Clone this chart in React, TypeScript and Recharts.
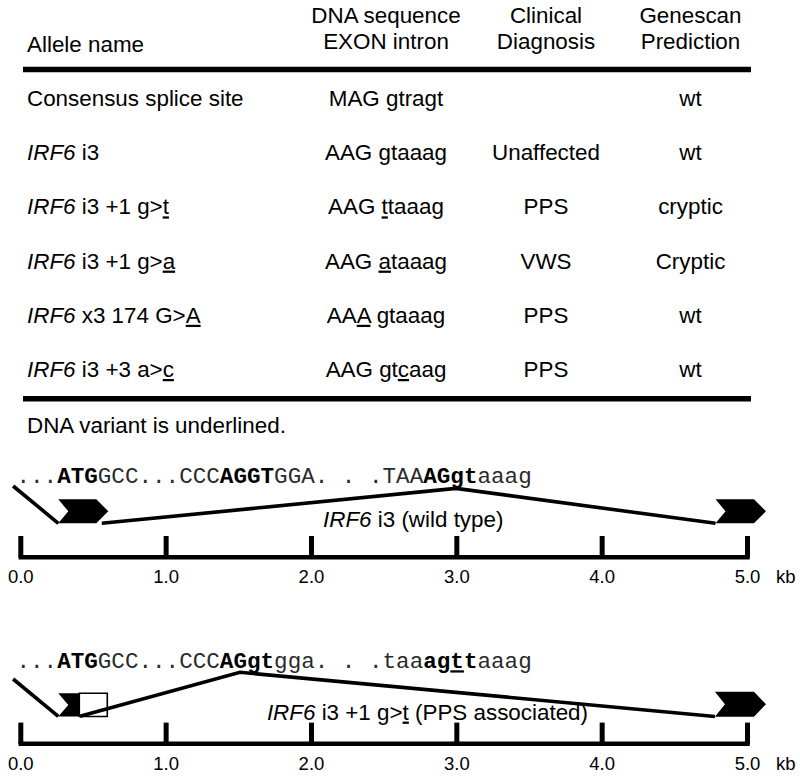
import React from 'react';
import { ComposedChart, Scatter, Line, XAxis, YAxis, ReferenceLine, ReferenceArea } from 'recharts';

// ---------------- Table data ----------------
const headerLines: string[][] = [
  ['Allele name'],
  ['DNA sequence', 'EXON intron'],
  ['Clinical', 'Diagnosis'],
  ['Genescan', 'Prediction'],
];
const alleleNames = [
  'Consensus splice site',
  '*IRF6* i3',
  '*IRF6* i3 +1 g>_t_',
  '*IRF6* i3 +1 g>_a_',
  '*IRF6* x3 174 G>_A_',
  '*IRF6* i3 +3 a>_c_',
];
const dnaSequences = ['MAG gtragt', 'AAG gtaaag', 'AAG _t_taaag', 'AAG _a_taaag', 'AA_A_ gtaaag', 'AAG gt_c_aag'];
const clinicalDiagnoses = ['', 'Unaffected', 'PPS', 'VWS', 'PPS', 'PPS'];
const genescanPredictions = ['wt', 'wt', 'cryptic', 'Cryptic', 'wt', 'wt'];
const footnote = 'DNA variant is underlined.';

// ---------------- Gene diagram data (x in kb, y in diagram units above the scale bar) ----------------
const kbTicks = [0, 1, 2, 3, 4, 5];
const kbUnit = 'kb';

const wtSequence = '...**ATG**GCC...CCC**AGGT**GGA. . .TAA**AGgt**aaag';
const wtLabel = '*IRF6* i3 (wild type)';
const wtLead = [{ kb: -0.053, y: 7.12 }, { kb: 0.258, y: 3.39 }];
const wtIntron = [{ kb: 0.557, y: 3.39 }, { kb: 2.994, y: 6.88 }, { kb: 4.78, y: 3.39 }];
const wtExons = [
  { start: 0.258, end: 0.602, bottom: 3.39, top: 5.79, kind: 'arrow' },
  { start: 4.78, end: 5.127, bottom: 3.39, top: 5.79, kind: 'arrow' },
];
const wtRetained: { start: number; end: number; bottom: number; top: number }[] = [];
const wtTexts = [
  { kb: -0.03, y: 7.39, markup: wtSequence, kind: 'seq' },
  { kb: 2.7, y: 3.02, markup: wtLabel, kind: 'label' },
];

const mutSequence = '...**ATG**GCC...CCC**AGgt**gga. . .taa**ag_t_t**aaag';
const mutLabel = '*IRF6* i3 +1 g>_t_ (PPS associated)';
const mutLead = [{ kb: -0.053, y: 6.48 }, { kb: 0.258, y: 2.75 }];
const mutIntron = [{ kb: 0.407, y: 2.75 }, { kb: 1.508, y: 7.15 }, { kb: 4.776, y: 2.73 }];
const mutExons = [
  { start: 0.258, end: 0.4025, bottom: 2.73, top: 5.05, kind: 'notched' },
  { start: 4.776, end: 5.127, bottom: 2.71, top: 5.21, kind: 'arrow' },
];
const mutRetained = [{ start: 0.4025, end: 0.595, bottom: 2.73, top: 5.05 }];
const mutTexts = [
  { kb: -0.03, y: 7.55, markup: mutSequence, kind: 'seq' },
  { kb: 2.798, y: 2.42, markup: mutLabel, kind: 'label' },
];

// ---------------- Layout / style constants ----------------
const FONT_SANS = '"Liberation Sans", Arial, Helvetica, sans-serif';
const FONT_MONO = '"Liberation Mono", "Courier New", Courier, monospace';
const SANS_SIZE = 22.4;
const MONO_SIZE = 22.6;
const TICK_FONT = 18.5;

const COL_X = [27, 386, 546, 690.5];
const COL_ANCHOR = ['start', 'middle', 'middle', 'middle'];
const ROW_PX = 54.2;
const ROW_MIN = -106 / ROW_PX;
const ROW_MAX = ROW_MIN + 440 / ROW_PX;
const HEADER_ROW = -1.046;
const HEADER_LINE_GAP = 26.6;
const SINGLE_HEADER_DY = 3;
const RULE_TOP = -0.673;
const RULE_BOTTOM = 5.402;
const FOOTNOTE_ROW = 6.026;

const NOTCH_PX = 10;
const POINT_PX = 12;
const TICK_H = 2.12;
const TICK_LABEL_Y = -2.61;
const KB_DX = 28.5;
const Y_MIN = -4;
const Y_MAX = 10;

// ---------------- Rich text ----------------
type Seg = { text: string; b: boolean; i: boolean; u: boolean };
function parseMarkup(s: string): Seg[] {
  const segs: Seg[] = [];
  let b = false, i = false, u = false, buf = '';
  const flush = () => {
    if (buf) {
      segs.push({ text: buf, b, i, u });
      buf = '';
    }
  };
  for (let k = 0; k < s.length; k++) {
    if (s.startsWith('**', k)) {
      flush();
      b = !b;
      k++;
      continue;
    }
    const c = s[k];
    if (c === '*') { flush(); i = !i; continue; }
    if (c === '_') { flush(); u = !u; continue; }
    buf += c;
  }
  flush();
  return segs;
}

function RichText(props: any) {
  const { x, y, markup, mono, anchor } = props;
  const segs = parseMarkup(markup);
  return (
    <text
      x={x}
      y={y}
      textAnchor={anchor}
      fontFamily={mono ? FONT_MONO : FONT_SANS}
      fontSize={mono ? MONO_SIZE : SANS_SIZE}
      fill="#000"
      style={{ whiteSpace: 'pre' }}
    >
      {segs.map((s, k) => (
        <tspan
          key={k}
          fontWeight={s.b ? 'bold' : 'normal'}
          fontStyle={s.i ? 'italic' : 'normal'}
          fill={mono && !s.b ? '#2a2a2a' : '#000'}
          style={s.u ? { textDecoration: 'underline' } : undefined}
        >
          {s.text}
        </tspan>
      ))}
    </text>
  );
}

// ---------------- Table ----------------
const tableCells: any[] = [
  ...headerLines.map((lines, c) => ({ col: c, row: HEADER_ROW, lines })),
  ...alleleNames.map((t, r) => ({ col: 0, row: r, text: t })),
  ...dnaSequences.map((t, r) => ({ col: 1, row: r, text: t })),
  ...clinicalDiagnoses.map((t, r) => ({ col: 2, row: r, text: t })),
  ...genescanPredictions.map((t, r) => ({ col: 3, row: r, text: t })),
  { col: 0, row: FOOTNOTE_ROW, text: footnote },
];

const CellShape = (props: any) => {
  const { cy, payload } = props;
  const x = COL_X[payload.col];
  const anchor = COL_ANCHOR[payload.col];
  if (payload.lines) {
    const n = payload.lines.length;
    return (
      <g>
        {payload.lines.map((ln: string, k: number) => (
          <RichText
            key={k}
            x={x}
            y={cy - (n - 1 - k) * HEADER_LINE_GAP + (n === 1 ? SINGLE_HEADER_DY : 0)}
            markup={ln}
            anchor={anchor}
          />
        ))}
      </g>
    );
  }
  if (!payload.text) return <g />;
  return <RichText x={x} y={cy} markup={payload.text} anchor={anchor} />;
};

function TableChart() {
  return (
    <ComposedChart width={800} height={440} margin={{ top: 0, right: 49, bottom: 0, left: 23 }}>
      <XAxis type="number" dataKey="col" domain={[0, 3]} hide />
      <YAxis type="number" dataKey="row" domain={[ROW_MIN, ROW_MAX]} reversed hide />
      <ReferenceLine y={RULE_TOP} stroke="#000" strokeWidth={5.6} ifOverflow="visible" />
      <ReferenceLine y={RULE_BOTTOM} stroke="#000" strokeWidth={5.6} ifOverflow="visible" />
      <Scatter data={tableCells} shape={CellShape} isAnimationActive={false} />
    </ComposedChart>
  );
}

// ---------------- Gene diagrams ----------------
const ExonShape = (props: any) => {
  const { x, y, width, height, kind } = props;
  const p = kind === 'arrow' ? POINT_PX : 0;
  const mid = y + height / 2;
  const pts = [
    [x, y],
    [x + width - p, y],
    [x + width, mid],
    [x + width - p, y + height],
    [x, y + height],
    [x + NOTCH_PX, mid],
  ];
  return <polygon points={pts.map((q) => q.join(',')).join(' ')} fill="#000" />;
};

const tickLabelPoints = kbTicks.map((k, idx) => ({
  kb: k,
  y: TICK_LABEL_Y,
  text: k.toFixed(1),
  unit: idx === kbTicks.length - 1 ? kbUnit : '',
}));

const TickLabel = (props: any) => {
  const { cx, cy, payload } = props;
  return (
    <g>
      <text x={cx} y={cy} textAnchor="middle" fontFamily={FONT_SANS} fontSize={TICK_FONT} fill="#000">
        {payload.text}
      </text>
      {payload.unit ? (
        <text x={cx + KB_DX} y={cy} textAnchor="start" fontFamily={FONT_SANS} fontSize={TICK_FONT} fill="#000">
          {payload.unit}
        </text>
      ) : null}
    </g>
  );
};

const DiagramText = (props: any) => {
  const { cx, cy, payload } = props;
  const mono = payload.kind === 'seq';
  return <RichText x={cx} y={cy} markup={payload.markup} mono={mono} anchor={mono ? 'start' : 'middle'} />;
};

function GeneDiagram(props: any) {
  const { height, marginTop, marginBottom, lead, intron, exons, retained, texts } = props;
  return (
    <ComposedChart width={800} height={height} margin={{ top: marginTop, right: 8.9, bottom: marginBottom, left: 6.27 }}>
      <XAxis type="number" dataKey="kb" domain={[-0.1, 5.3]} ticks={kbTicks} hide />
      <YAxis type="number" dataKey="y" domain={[Y_MIN, Y_MAX]} hide />
      <ReferenceLine
        segment={[{ x: kbTicks[0], y: 0 }, { x: kbTicks[kbTicks.length - 1], y: 0 }]}
        stroke="#000"
        strokeWidth={4.5}
        strokeLinecap="square"
        ifOverflow="visible"
      />
      {kbTicks.map((k) => (
        <ReferenceLine key={k} segment={[{ x: k, y: 0 }, { x: k, y: TICK_H }]} stroke="#000" strokeWidth={5} ifOverflow="visible" />
      ))}
      {exons.map((e: any, k: number) => (
        <ReferenceArea
          key={'e' + k}
          x1={e.start}
          x2={e.end}
          y1={e.bottom}
          y2={e.top}
          ifOverflow="visible"
          shape={(p: any) => <ExonShape {...p} kind={e.kind} />}
        />
      ))}
      {retained.map((r: any, k: number) => (
        <ReferenceArea
          key={'r' + k}
          x1={r.start}
          x2={r.end}
          y1={r.bottom}
          y2={r.top}
          ifOverflow="visible"
          fill="#fff"
          fillOpacity={1}
          stroke="#000"
          strokeWidth={1.6}
        />
      ))}
      <Line data={lead} dataKey="y" type="linear" stroke="#000" strokeWidth={3.6} dot={false} activeDot={false} isAnimationActive={false} />
      <Line data={intron} dataKey="y" type="linear" stroke="#000" strokeWidth={3.6} dot={false} activeDot={false} isAnimationActive={false} />
      <Scatter data={texts} shape={DiagramText} isAnimationActive={false} />
      <Scatter data={tickLabelPoints} shape={TickLabel} isAnimationActive={false} />
    </ComposedChart>
  );
}

export default function App() {
  return (
    <div style={{ position: 'absolute', left: 0, top: 0, width: 800, height: 778, background: '#fff', overflow: 'hidden' }}>
      <div style={{ position: 'absolute', left: 0, top: 0 }}>
        <TableChart />
      </div>
      <div style={{ position: 'absolute', left: 0, top: 440 }}>
        <GeneDiagram
          height={186}
          marginTop={17.2}
          marginBottom={28.8}
          lead={wtLead}
          intron={wtIntron}
          exons={wtExons}
          retained={wtRetained}
          texts={wtTexts}
        />
      </div>
      <div style={{ position: 'absolute', left: 0, top: 626 }}>
        <GeneDiagram
          height={160}
          marginTop={17.8}
          marginBottom={2.2}
          lead={mutLead}
          intron={mutIntron}
          exons={mutExons}
          retained={mutRetained}
          texts={mutTexts}
        />
      </div>
    </div>
  );
}
